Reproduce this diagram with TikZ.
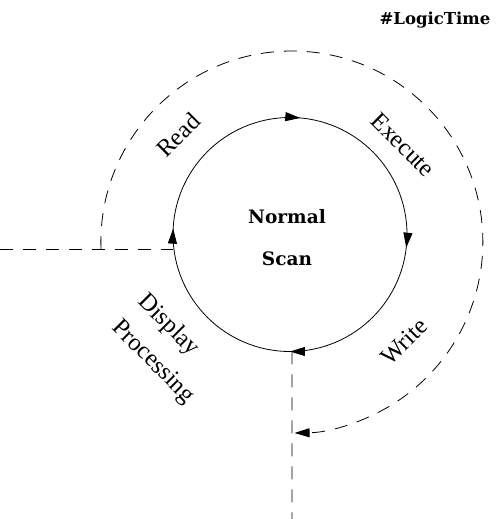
\documentclass[tikz,border=0pt]{standalone}
\usepackage{fontspec}
\setmainfont{Liberation Serif}
\newfontfamily\scanfont{DejaVu Serif}
\usetikzlibrary{arrows.meta,decorations.markings,calc}

\tikzset{
    phase/.style={font=\fontsize{24.5}{37}\selectfont, inner sep=0pt},
    scantext/.style={font=\scanfont\bfseries\fontsize{18.5}{20}\selectfont, inner sep=0pt},
    flow/.style={line width=0.8pt, dash pattern=on 13pt off 10pt},
    scanloop/.style={line width=0.8pt, postaction={decorate},
        decoration={markings,
            mark=at position 0.014 with {\arrow{>}},
            mark=at position 0.268 with {\arrow{>}},
            mark=at position 0.500 with {\arrow{>}},
            mark=at position 0.758 with {\arrow{>}}}}
}

\begin{document}
\begin{tikzpicture}[x=1pt, y=1pt, >={Triangle[length=15pt,width=9pt]}]
    \useasboundingbox (0, 0) rectangle (496, -519);
    % centres of the two loops
    \coordinate (inner) at (290, -234.5);
    \coordinate (outer) at (291.5, -242);
    % points on the scan loop
    \coordinate (scanL) at ($(inner) + (180:117)$);
    \coordinate (scanB) at ($(inner) + (-89:117)$);
    % free ends of the dashed lines
    \coordinate (edgeL) at (0, -249);
    \coordinate (edgeB) at (292, -519);
    \coordinate (outL) at (101, -249);

    % the scan loop
    \draw [scanloop] ($(inner) + (90:117)$) arc [start angle=90, end angle=-270, radius=117];
    \node [scantext] (normal) at (287, -217) {Normal};
    \node [scantext] (scan) at (287, -259) {Scan};

    % outer logic time loop
    \draw [flow] (edgeL) -- (scanL |- edgeL);
    \draw [flow] (scanB) -- (edgeB);
    \draw [flow, ->] (outL) arc [start angle=182.1, end angle=-89.2, radius=191];

    % phases
    \node [phase, rotate=45] (read) at (178, -135) {Read};
    \node [phase, rotate=-45] (execute) at (403, -145) {Execute};
    \node [phase, rotate=45] (write) at (404, -342) {Write};
    \node [phase, rotate=-45, align=left] (display) at (166, -349) {Display\\Processing};

    \node [font=\scanfont\bfseries\fontsize{16.5}{18}\selectfont, inner sep=0pt] (tag) at (435, -20) {\#LogicTime};
\end{tikzpicture}
\end{document}
